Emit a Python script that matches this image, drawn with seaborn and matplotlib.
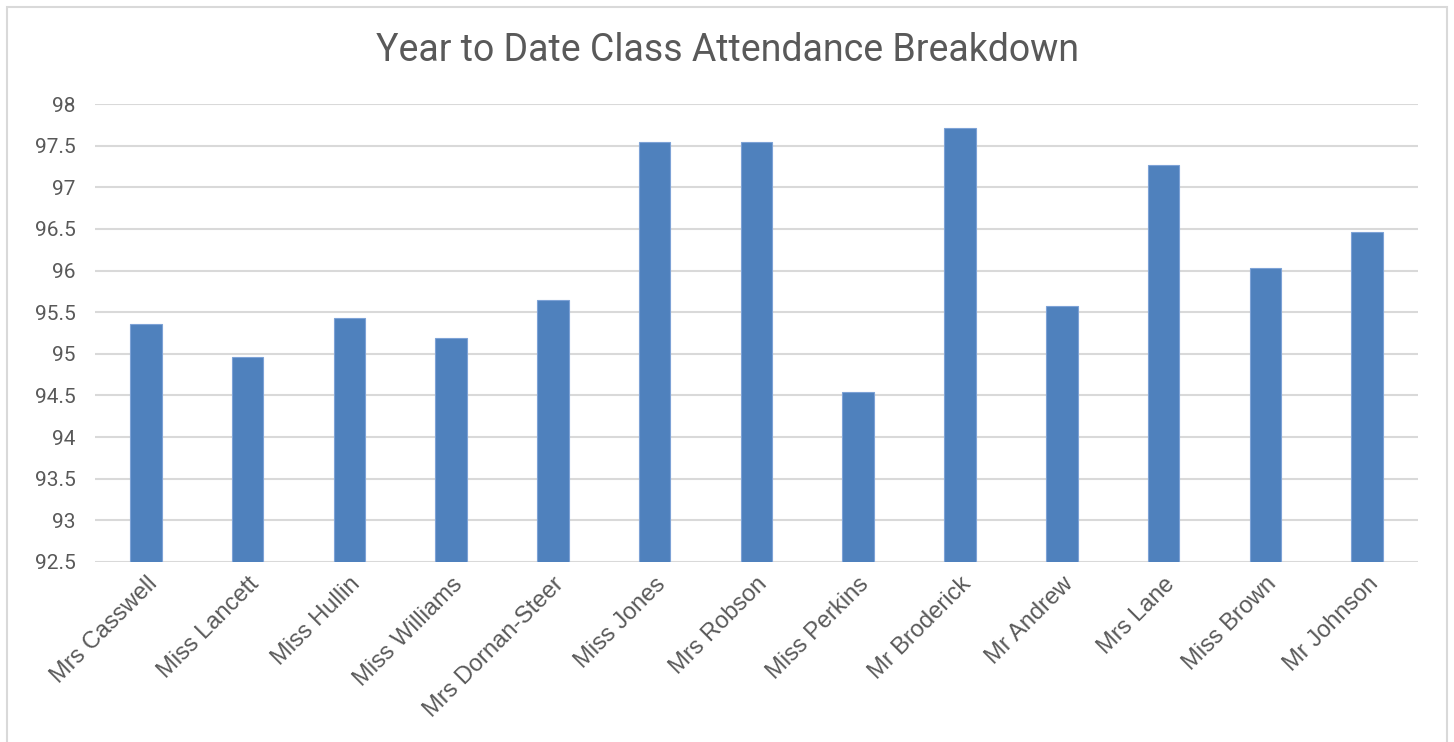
import matplotlib
matplotlib.use("Agg")
import matplotlib.pyplot as plt
import seaborn as sns
import pandas as pd
from matplotlib.patches import Rectangle

teachers = ["Mrs Casswell", "Miss Lancett", "Miss Hullin", "Miss Williams",
            "Mrs Dornan-Steer", "Miss Jones", "Mrs Robson", "Miss Perkins",
            "Mr Broderick", "Mr Andrew", "Mrs Lane", "Miss Brown", "Mr Johnson"]
attendance = [95.36, 94.96, 95.43, 95.19, 95.65, 97.54, 97.54, 94.54,
              97.71, 95.58, 97.27, 96.03, 96.46]
yticks = [92.5, 93, 93.5, 94, 94.5, 95, 95.5, 96, 96.5, 97, 97.5, 98]
ytick_labels = ["92.5", "93", "93.5", "94", "94.5", "95", "95.5", "96",
                "96.5", "97", "97.5", "98"]
title = "Year to Date Class Attendance Breakdown"

sns.set_theme(style="white")
plt.rcParams['font.family'] = ['Roboto', 'DejaVu Sans']

df = pd.DataFrame({"teacher": teachers, "attendance": attendance})

fig = plt.figure(figsize=(14.54, 7.42), dpi=100)
ax = fig.add_axes([0.0653, 0.2426, 0.9752 - 0.0653, 0.8598 - 0.2426])

sns.barplot(data=df, x="teacher", y="attendance", color="#4F81BD",
            saturation=1, width=0.31, ax=ax, edgecolor="#7da2d6",
            linewidth=0.8, zorder=3)

ax.set_ylim(92.5, 98)
ax.set_xlim(-0.5, len(teachers) - 0.5)
ax.set_yticks(yticks)
ax.set_yticklabels(ytick_labels)
ax.set_xlabel("")
ax.set_ylabel("")
for s in ax.spines.values():
    s.set_visible(False)
ax.yaxis.grid(True, color="#d9d9d9", linewidth=1.5, zorder=0)
ax.set_axisbelow(True)
ax.tick_params(axis="y", length=0, pad=14, labelsize=15, labelcolor="#595959")
ax.tick_params(axis="x", length=0, pad=8, labelsize=17, labelcolor="#595959")
for lbl in ax.get_xticklabels():
    lbl.set_family(['Liberation Sans', 'DejaVu Sans'])
plt.setp(ax.get_xticklabels(), rotation=45, ha="right", rotation_mode="anchor")

fig.text(0.5, 0.932, title, ha="center", va="center", fontsize=27,
         color="#595959")

fig.patches.append(Rectangle((7 / 1454, -0.01), (1447 - 7) / 1454, 1 - 7 / 742 + 0.01,
                             transform=fig.transFigure, fill=False,
                             edgecolor="#d9d9d9", linewidth=1.5))

fig.savefig("out.png", dpi=100, facecolor="white")
